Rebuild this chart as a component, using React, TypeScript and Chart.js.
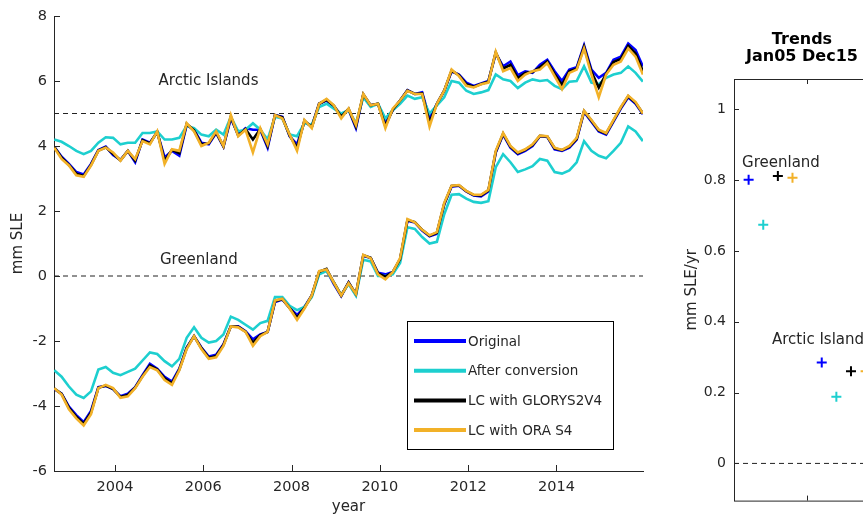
import React, { useEffect, useRef } from 'react';
import { Chart, registerables } from 'chart.js';

Chart.register(...registerables);

// ---------------- DATA ----------------
const years = [
  2002.625, 2002.792, 2002.958, 2003.125, 2003.292, 2003.458, 2003.625, 2003.792, 2003.958, 2004.125,
  2004.292, 2004.458, 2004.625, 2004.792, 2004.958, 2005.125, 2005.292, 2005.458, 2005.625, 2005.792,
  2005.958, 2006.125, 2006.292, 2006.458, 2006.625, 2006.792, 2006.958, 2007.125, 2007.292, 2007.458,
  2007.625, 2007.792, 2007.958, 2008.125, 2008.292, 2008.458, 2008.625, 2008.792, 2008.958, 2009.125,
  2009.292, 2009.458, 2009.625, 2009.792, 2009.958, 2010.125, 2010.292, 2010.458, 2010.625, 2010.792,
  2010.958, 2011.125, 2011.292, 2011.458, 2011.625, 2011.792, 2011.958, 2012.125, 2012.292, 2012.458,
  2012.625, 2012.792, 2012.958, 2013.125, 2013.292, 2013.458, 2013.625, 2013.792, 2013.958, 2014.125,
  2014.292, 2014.458, 2014.625, 2014.792, 2014.958, 2015.125, 2015.292, 2015.458, 2015.625, 2015.792,
  2015.958,
];

const arcticOriginal = [
  3.98, 3.67, 3.45, 3.2, 3.12, 3.45, 3.88, 3.98, 3.72, 3.57,
  3.85, 3.5, 4.2, 4.1, 4.42, 3.65, 3.85, 3.7, 4.65, 4.5,
  4.1, 4.05, 4.4, 3.98, 4.85, 4.35, 4.55, 4.5, 4.5, 3.95,
  4.95, 4.9, 4.3, 4.05, 4.75, 4.6, 5.3, 5.4, 5.22, 4.95,
  5.12, 4.55, 5.58, 5.25, 5.3, 4.7, 5.1, 5.4, 5.72, 5.6,
  5.65, 4.85, 5.3, 5.7, 6.3, 6.2, 5.95, 5.85, 5.92, 6.0,
  6.85, 6.45, 6.6, 6.18, 6.3, 6.25, 6.5, 6.65, 6.3, 6.0,
  6.35, 6.42, 7.1, 6.35, 6.1, 6.25, 6.65, 6.75, 7.15, 6.95,
  6.45,
];
const arcticConverted = [
  4.2, 4.13, 4.0, 3.85, 3.75, 3.85, 4.1, 4.27, 4.25, 4.05,
  4.1, 4.1, 4.4, 4.4, 4.45, 4.2, 4.2, 4.25, 4.62, 4.55,
  4.35, 4.3, 4.5, 4.35, 4.9, 4.45, 4.5, 4.7, 4.5, 4.2,
  4.9, 4.85, 4.35, 4.3, 4.7, 4.65, 5.2, 5.3, 5.15, 5.0,
  5.1, 4.7, 5.5, 5.2, 5.3, 4.85, 5.1, 5.3, 5.55, 5.45,
  5.5, 5.0, 5.25, 5.5, 6.0, 5.95, 5.7, 5.6, 5.65, 5.72,
  6.2, 6.05, 6.0, 5.78, 5.95, 6.05, 6.0, 6.03, 5.85, 5.75,
  5.98, 6.0, 6.45, 5.95, 5.9, 6.1, 6.2, 6.25, 6.45, 6.25,
  5.98,
];
const arcticGlorys = [
  3.97, 3.64, 3.42, 3.15, 3.08, 3.42, 3.86, 3.96, 3.76, 3.56,
  3.85, 3.55, 4.18, 4.08, 4.44, 3.55, 3.88, 3.78, 4.68, 4.48,
  4.05, 4.08, 4.42, 3.99, 4.9, 4.32, 4.52, 4.2, 4.52, 4.0,
  4.95, 4.88, 4.32, 3.95, 4.78, 4.58, 5.3, 5.42, 5.24, 4.9,
  5.14, 4.6, 5.59, 5.25, 5.3, 4.62, 5.12, 5.4, 5.71, 5.6,
  5.62, 4.72, 5.3, 5.7, 6.32, 6.18, 5.9, 5.82, 5.91, 5.98,
  6.88, 6.38, 6.5, 6.09, 6.25, 6.28, 6.42, 6.6, 6.22, 5.88,
  6.3, 6.38, 7.05, 6.28, 5.8, 6.22, 6.58, 6.68, 7.08, 6.85,
  6.3,
];
const arcticOra = [
  3.95, 3.6, 3.4, 3.1, 3.05, 3.4, 3.85, 3.95, 3.8, 3.55,
  3.85, 3.6, 4.15, 4.05, 4.45, 3.45, 3.9, 3.85, 4.7, 4.45,
  4.0, 4.1, 4.45, 4.0, 4.95, 4.3, 4.5, 3.8, 4.55, 4.05,
  4.95, 4.85, 4.35, 3.85, 4.8, 4.55, 5.3, 5.45, 5.25, 4.85,
  5.15, 4.65, 5.6, 5.25, 5.3, 4.55, 5.15, 5.4, 5.7, 5.6,
  5.6, 4.6, 5.3, 5.7, 6.35, 6.15, 5.85, 5.8, 5.9, 5.95,
  6.9, 6.3, 6.4, 6.0, 6.2, 6.3, 6.35, 6.55, 6.15, 5.75,
  6.25, 6.35, 7.0, 6.2, 5.5, 6.2, 6.5, 6.6, 7.0, 6.75,
  6.2,
];

const greenlandOriginal = [
  -3.48, -3.62, -4.02, -4.28, -4.5, -4.15, -3.42, -3.38, -3.48, -3.7,
  -3.62, -3.42, -3.05, -2.7, -2.85, -3.1, -3.25, -2.85, -2.2, -1.85,
  -2.2, -2.48, -2.42, -2.1, -1.55, -1.55, -1.7, -1.95, -1.8, -1.72,
  -0.8, -0.72, -0.98, -1.2, -0.95, -0.6, 0.1, 0.18, -0.25, -0.62,
  -0.2, -0.58, 0.62, 0.55, 0.1, 0.05, 0.12, 0.5, 1.7, 1.65,
  1.4, 1.22, 1.3, 2.2, 2.75, 2.78, 2.6, 2.48, 2.45, 2.6,
  3.8, 4.35, 3.95, 3.75, 3.85, 4.0, 4.3, 4.28, 3.9, 3.85,
  3.95, 4.2, 5.05, 4.75, 4.45, 4.35, 4.75, 5.15, 5.5, 5.3,
  4.98,
];
const greenlandConverted = [
  -2.9, -3.1, -3.4, -3.65, -3.75, -3.55, -2.88, -2.8, -2.98, -3.05,
  -2.95, -2.85, -2.6, -2.35, -2.4, -2.62, -2.78, -2.55, -1.9, -1.58,
  -1.9, -2.05, -2.0, -1.8, -1.25, -1.35, -1.5, -1.65, -1.45, -1.38,
  -0.65, -0.65, -0.92, -1.05, -0.95, -0.65, 0.05, 0.15, -0.2, -0.58,
  -0.25, -0.6, 0.5, 0.45, 0.0, 0.0, 0.05, 0.4, 1.5, 1.45,
  1.2, 1.0, 1.05, 1.9, 2.5, 2.52, 2.38, 2.28, 2.25, 2.3,
  3.35, 3.75, 3.5, 3.2, 3.28, 3.38, 3.6, 3.55, 3.2, 3.15,
  3.25, 3.5, 4.15, 3.85, 3.7, 3.62, 3.85, 4.1, 4.6, 4.45,
  4.15,
];
const greenlandGlorys = [
  -3.46, -3.63, -4.06, -4.33, -4.55, -4.2, -3.44, -3.37, -3.47, -3.72,
  -3.66, -3.44, -3.08, -2.75, -2.88, -3.15, -3.3, -2.88, -2.22, -1.85,
  -2.22, -2.52, -2.46, -2.12, -1.55, -1.56, -1.71, -2.05, -1.82, -1.72,
  -0.78, -0.71, -0.99, -1.28, -0.98, -0.6, 0.13, 0.22, -0.2, -0.6,
  -0.2, -0.55, 0.64, 0.56, 0.08, -0.02, 0.12, 0.52, 1.72, 1.66,
  1.42, 1.24, 1.33, 2.22, 2.77, 2.79, 2.61, 2.49, 2.48, 2.63,
  3.82, 4.38, 3.98, 3.78, 3.88, 4.03, 4.31, 4.29, 3.93, 3.87,
  3.98, 4.22, 5.07, 4.78, 4.48, 4.38, 4.78, 5.18, 5.53, 5.33,
  5.0,
];
const greenlandOra = [
  -3.45, -3.65, -4.1, -4.38, -4.6, -4.25, -3.45, -3.35, -3.45, -3.75,
  -3.7, -3.45, -3.1, -2.8, -2.9, -3.2, -3.35, -2.9, -2.25, -1.85,
  -2.25, -2.55, -2.5, -2.15, -1.55, -1.58, -1.72, -2.15, -1.85, -1.72,
  -0.75, -0.7, -1.0, -1.35, -1.0, -0.6, 0.15, 0.2, -0.2, -0.6,
  -0.22, -0.55, 0.65, 0.55, 0.05, -0.1, 0.12, 0.55, 1.75, 1.65,
  1.42, 1.25, 1.35, 2.25, 2.78, 2.8, 2.62, 2.5, 2.5, 2.65,
  3.85, 4.4, 4.0, 3.8, 3.9, 4.05, 4.32, 4.3, 3.95, 3.88,
  4.0, 4.25, 5.08, 4.8, 4.5, 4.4, 4.8, 5.2, 5.55, 5.35,
  5.0,
];

const seriesNames = ['Original', 'After conversion', 'LC with GLORYS2V4', 'LC with ORA S4'];
const seriesColors = ['#0000FF', '#1DCFCF', '#000000', '#F2B128'];
const yTicks = [-6, -4, -2, 0, 2, 4, 6, 8];
const xTicks = [2004, 2006, 2008, 2010, 2012, 2014];
const regionNames = ['Arctic Islands', 'Greenland'];
const baselines = [5, 0];

// Trends panel
const trendTitle = ['Trends', 'Jan05 Dec15'];
const greenlandTrends = [0.801, 0.674, 0.812, 0.807];
const arcticTrends = [0.285, 0.188, 0.26, 0.26];
const trendYTicks = [0, 0.2, 0.4, 0.6, 0.8, 1];
const trendXTicks = [5];

// ---------------- STYLE ----------------
const FONT = "'DejaVu Sans', sans-serif";
const AX = '#262626';
const X_MIN = 2002.62;
const X_MAX = 2015.96;

const arcticSeries = [arcticOriginal, arcticConverted, arcticGlorys, arcticOra];
const greenlandSeries = [greenlandOriginal, greenlandConverted, greenlandGlorys, greenlandOra];

function leftConfig(): any {
  const datasets: any[] = [];
  baselines.forEach((b) => {
    datasets.push({
      data: [{ x: X_MIN, y: b }, { x: X_MAX, y: b }],
      borderColor: '#222',
      borderWidth: 1,
      borderDash: [5, 4],
      pointRadius: 0,
      order: 10,
    });
  });
  [arcticSeries, greenlandSeries].forEach((group) => {
    group.forEach((arr, i) => {
      datasets.push({
        data: years.map((x, k) => ({ x, y: arr[k] })),
        borderColor: seriesColors[i],
        borderWidth: 2.6,
        pointRadius: 0,
        tension: 0,
        order: 4 - i,
      });
    });
  });

  const decor = {
    id: 'leftDecor',
    afterDraw(chart: any) {
      const { ctx, chartArea, scales } = chart;
      const { left, right, bottom } = chartArea;
      const xs = scales.x;
      const ys = scales.y;
      ctx.save();
      ctx.strokeStyle = AX;
      ctx.lineWidth = 1;
      ctx.beginPath();
      yTicks.forEach((v) => {
        const py = Math.round(ys.getPixelForValue(v)) + 0.5;
        ctx.moveTo(left, py);
        ctx.lineTo(left + 6, py);
      });
      xTicks.forEach((v) => {
        const px = Math.round(xs.getPixelForValue(v)) + 0.5;
        ctx.moveTo(px, bottom);
        ctx.lineTo(px, bottom - 6);
      });
      ctx.stroke();

      // region labels
      ctx.fillStyle = AX;
      ctx.font = `15px ${FONT}`;
      ctx.textAlign = 'center';
      ctx.textBaseline = 'middle';
      ctx.fillText(regionNames[0], xs.getPixelForValue(2006.12), ys.getPixelForValue(6.0));
      ctx.fillText(regionNames[1], xs.getPixelForValue(2005.9), ys.getPixelForValue(0.49));

      // legend
      const lx = right - 236;
      const ly = 321;
      const lw = 206;
      const lh = 128;
      ctx.fillStyle = '#ffffff';
      ctx.fillRect(lx, ly, lw, lh);
      ctx.strokeStyle = '#000';
      ctx.lineWidth = 1;
      ctx.strokeRect(lx + 0.5, ly + 0.5, lw, lh);
      ctx.font = `13.5px ${FONT}`;
      ctx.textAlign = 'left';
      ctx.textBaseline = 'middle';
      seriesNames.forEach((name, i) => {
        const yy = ly + 20 + i * 29.7;
        ctx.strokeStyle = seriesColors[i];
        ctx.lineWidth = 4;
        ctx.beginPath();
        ctx.moveTo(lx + 7, yy);
        ctx.lineTo(lx + 59, yy);
        ctx.stroke();
        ctx.fillStyle = AX;
        ctx.fillText(name, lx + 61, yy + 1);
      });
      ctx.restore();
    },
  };

  return {
    type: 'line',
    data: { datasets },
    options: {
      responsive: false,
      animation: false,
      events: [],
      layout: { padding: { top: 16, right: 17, left: 0, bottom: 0 } },
      plugins: { legend: { display: false }, tooltip: { enabled: false }, title: { display: false } },
      scales: {
        x: {
          type: 'linear',
          min: X_MIN,
          max: X_MAX,
          afterBuildTicks: (s: any) => { s.ticks = xTicks.map((v) => ({ value: v })); },
          afterFit: (s: any) => { s.height = 46; },
          grid: { display: false, drawTicks: false },
          border: { display: true, color: AX, width: 1 },
          ticks: { color: AX, font: { family: FONT, size: 14.5 }, padding: 8, maxRotation: 0, callback: (v: any) => String(v) },
          title: { display: true, text: 'year', color: AX, font: { family: FONT, size: 15 }, padding: { top: 0, bottom: 1 } },
        },
        y: {
          type: 'linear',
          min: -6,
          max: 8,
          afterBuildTicks: (s: any) => { s.ticks = yTicks.map((v) => ({ value: v })); },
          afterFit: (s: any) => { s.width = 54; },
          grid: { display: false, drawTicks: false },
          border: { display: true, color: AX, width: 1 },
          ticks: { color: AX, font: { family: FONT, size: 14.5 }, padding: 7, callback: (v: any) => String(v) },
          title: { display: true, text: 'mm SLE', color: AX, font: { family: FONT, size: 15 }, padding: { top: 9, bottom: 0 } },
        },
      },
    },
    plugins: [decor],
  };
}

const T_XMAX = 9.3;

function rightConfig(): any {
  const datasets: any[] = [
    {
      type: 'line',
      data: [{ x: 0, y: 0 }, { x: T_XMAX, y: 0 }],
      borderColor: '#222',
      borderWidth: 1,
      borderDash: [5, 4],
      pointRadius: 0,
      order: 10,
    },
    {
      type: 'scatter',
      data: greenlandTrends.map((v, i) => ({ x: i + 1, y: v })),
      pointStyle: 'cross',
      pointRadius: 5,
      pointBorderWidth: 2,
      pointBorderColor: seriesColors,
      pointBackgroundColor: seriesColors,
      clip: false,
    },
    {
      type: 'scatter',
      data: arcticTrends.map((v, i) => ({ x: i + 6, y: v })),
      pointStyle: 'cross',
      pointRadius: 5,
      pointBorderWidth: 2,
      pointBorderColor: seriesColors,
      pointBackgroundColor: seriesColors,
      clip: false,
    },
  ];

  const decor = {
    id: 'rightDecor',
    afterDraw(chart: any) {
      const { ctx, chartArea, scales } = chart;
      const { left, right, top, bottom } = chartArea;
      const xs = scales.x;
      const ys = scales.y;
      ctx.save();
      ctx.strokeStyle = AX;
      ctx.lineWidth = 1;
      ctx.strokeRect(left + 0.5, top + 0.5, right - left, bottom - top);
      ctx.beginPath();
      trendYTicks.forEach((v) => {
        const py = Math.round(ys.getPixelForValue(v)) + 0.5;
        ctx.moveTo(left, py);
        ctx.lineTo(left + 5, py);
      });
      trendXTicks.forEach((v) => {
        const px = Math.round(xs.getPixelForValue(v)) + 0.5;
        ctx.moveTo(px, bottom);
        ctx.lineTo(px, bottom - 5);
        ctx.moveTo(px, top);
        ctx.lineTo(px, top + 5);
      });
      ctx.stroke();

      const cx = (left + right) / 2;
      ctx.fillStyle = '#000';
      ctx.font = `bold 16px ${FONT}`;
      ctx.textAlign = 'center';
      ctx.textBaseline = 'middle';
      ctx.fillText(trendTitle[0], cx, top - 39);
      ctx.fillText(trendTitle[1], cx, top - 22);

      ctx.fillStyle = AX;
      ctx.font = `15px ${FONT}`;
      ctx.textAlign = 'left';
      ctx.fillText(regionNames[1], xs.getPixelForValue(0.55), ys.getPixelForValue(0.848));
      ctx.fillText(regionNames[0], xs.getPixelForValue(2.6), ys.getPixelForValue(0.348));
      ctx.restore();
    },
  };

  return {
    type: 'scatter',
    data: { datasets },
    options: {
      responsive: false,
      animation: false,
      events: [],
      layout: { padding: { top: 79, right: 20, left: 0, bottom: 0 } },
      plugins: { legend: { display: false }, tooltip: { enabled: false }, title: { display: false } },
      scales: {
        x: {
          type: 'linear',
          min: 0,
          max: T_XMAX,
          afterBuildTicks: (s: any) => { s.ticks = trendXTicks.map((v) => ({ value: v })); },
          afterFit: (s: any) => { s.height = 7; },
          grid: { display: false, drawTicks: false },
          border: { display: false },
          ticks: { display: false },
        },
        y: {
          type: 'linear',
          min: -0.105,
          max: 1.0856,
          afterBuildTicks: (s: any) => { s.ticks = trendYTicks.map((v) => ({ value: v })); },
          afterFit: (s: any) => { s.width = 74; },
          grid: { display: false, drawTicks: false },
          border: { display: false },
          ticks: { color: AX, font: { family: FONT, size: 14 }, padding: 8, callback: (v: any) => String(v) },
          title: { display: true, text: 'mm SLE/yr', color: AX, font: { family: FONT, size: 15 }, padding: { top: 23, bottom: 0 } },
        },
      },
    },
    plugins: [decor],
  };
}

export default function App() {
  const leftRef = useRef<HTMLCanvasElement>(null);
  const rightRef = useRef<HTMLCanvasElement>(null);

  useEffect(() => {
    const c1 = new Chart(leftRef.current as HTMLCanvasElement, leftConfig());
    const c2 = new Chart(rightRef.current as HTMLCanvasElement, rightConfig());
    return () => {
      c1.destroy();
      c2.destroy();
    };
  }, []);

  return (
    <div style={{ position: 'fixed', left: 0, top: 0, width: 863, height: 517, background: '#fff', overflow: 'hidden' }}>
      <canvas ref={leftRef} width={660} height={517} style={{ position: 'absolute', left: 0, top: 0, display: 'block' }} />
      <div style={{ position: 'absolute', left: 660, top: 0, width: 203, height: 517, overflow: 'hidden' }}>
        <canvas ref={rightRef} width={230} height={517} style={{ position: 'absolute', left: 0, top: 0, display: 'block' }} />
      </div>
    </div>
  );
}
